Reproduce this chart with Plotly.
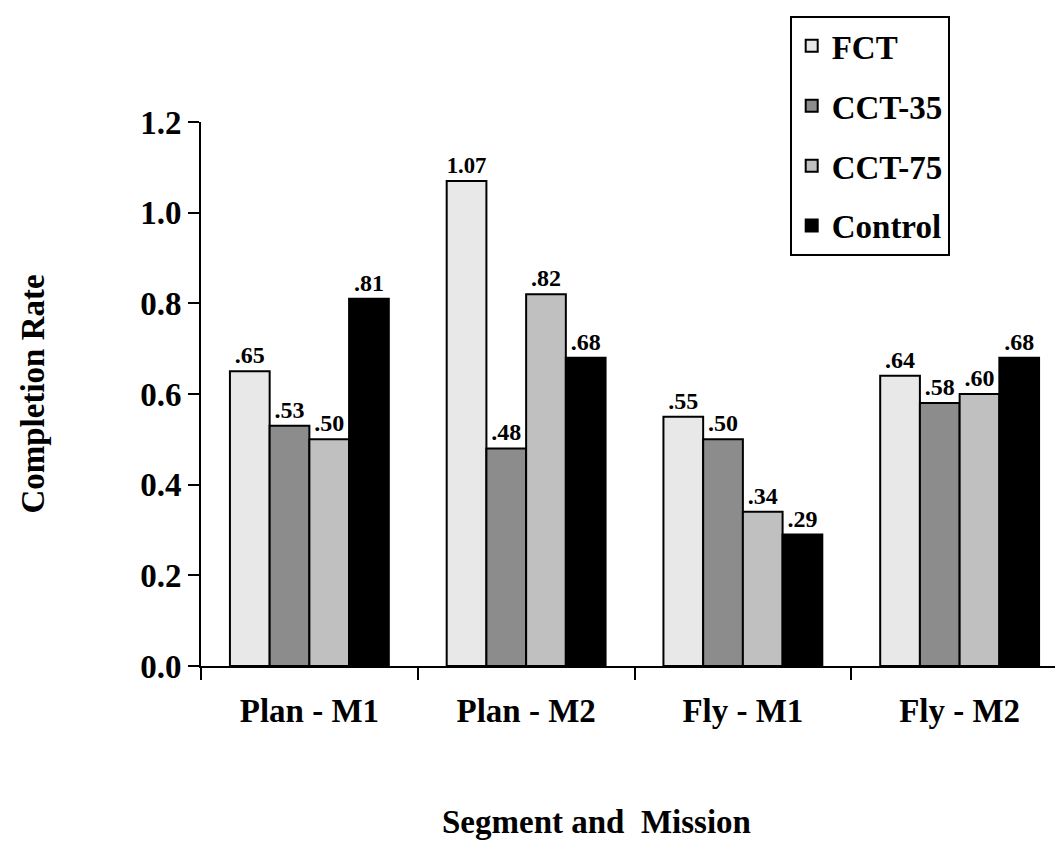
import plotly.graph_objects as go

categories = ["Plan - M1", "Plan - M2", "Fly - M1", "Fly - M2"]
series_names = ["FCT", "CCT-35", "CCT-75", "Control"]
fct = [0.65, 1.07, 0.55, 0.64]
cct35 = [0.53, 0.48, 0.50, 0.58]
cct75 = [0.50, 0.82, 0.34, 0.60]
control = [0.81, 0.68, 0.29, 0.68]
y_ticks = [0.0, 0.2, 0.4, 0.6, 0.8, 1.0, 1.2]

series_values = [fct, cct35, cct75, control]
colors = ["#e8e8e8", "#8c8c8c", "#c0c0c0", "#000000"]

FONT = "Liberation Serif"


def fmt(v):
    s = f"{v:.2f}"
    return s[1:] if s.startswith("0") else s


fig = go.Figure()
for i, (name, vals) in enumerate(zip(series_names, series_values)):
    fig.add_trace(go.Bar(
        name=name,
        x=categories,
        y=vals,
        marker=dict(color=colors[i], line=dict(color="black", width=2)),
        text=[fmt(v) for v in vals],
        textposition="outside",
        textfont=dict(family=FONT, size=24, color="black", weight="bold"),
        cliponaxis=False,
        legendgroup=name,
    ))

fig.update_layout(
    width=1063,
    height=846,
    barmode="group",
    bargap=0.267,
    bargroupgap=0,
    plot_bgcolor="white",
    paper_bgcolor="white",
    margin=dict(l=193, r=3, t=114, b=188),
    font=dict(family=FONT, size=33, color="black"),
    legend=dict(
        x=0.679, y=1.195, xanchor="left", yanchor="top",
        bordercolor="black", borderwidth=2,
        font=dict(family=FONT, size=33, color="black", weight="bold"),
        traceorder="grouped",
        tracegroupgap=14,
        bgcolor="white",
    ),
    xaxis=dict(
        showline=True, linecolor="black", linewidth=2,
        ticks="outside", tickson="boundaries", ticklen=12, tickwidth=2, tickcolor="black",
        tickfont=dict(family=FONT, size=33, color="black", weight="bold"),
        ticklabelstandoff=14,
        showgrid=False,
    ),
    yaxis=dict(
        range=[0, 1.2],
        tickvals=y_ticks,
        tickformat=".1f",
        showline=True, linecolor="black", linewidth=2,
        ticks="outside", ticklen=11, tickwidth=2, tickcolor="black",
        tickfont=dict(family=FONT, size=33, color="black", weight="bold"),
        showgrid=False, zeroline=False,
        title=dict(text="<b>Completion Rate</b>", font=dict(family=FONT, size=33), standoff=86),
    ),
    annotations=[dict(
        text="<b>Segment and  Mission</b>",
        xref="paper", yref="paper", x=0.456, y=-0.287,
        xanchor="center", yanchor="middle", showarrow=False,
        font=dict(family=FONT, size=33, color="black"),
    )],
)

fig.write_html("out.html")
